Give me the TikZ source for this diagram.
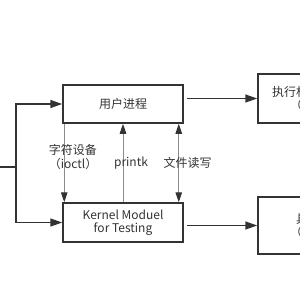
\documentclass[tikz,border=0pt]{standalone}
\usepackage{fontspec}
\setmainfont{Noto Sans CJK SC}
\usetikzlibrary{arrows.meta, positioning}

\begin{document}
\begin{tikzpicture}[
    x=1pt, y=-1pt,
    >={Triangle[length=12pt, width=8pt]},
    every node/.style={font=\fontsize{12}{13.5}\selectfont, text=black!80},
    thintip/.tip={Triangle[length=10pt, width=6.5pt, color=black!80, fill=black!80]},
    block/.style={draw=black!80, line width=1.5pt, minimum width=120pt, align=center, inner sep=0pt},
    flow/.style={->, draw=black!80, line width=1.5pt},
    link/.style={-thintip, draw=gray!90, line width=1pt},
    linkboth/.style={thintip-thintip, draw=gray!90, line width=1pt},
]
\clip (0,0) rectangle (300,300);
% boxes
\node[block, minimum height=38pt] (user) at (123,104) {用户进程};
\node[block, minimum height=39pt] (kernel) at (123,222.5) {Kernel Moduel\\for Testing};
\node[block, minimum width=124pt, minimum height=49pt] (exec) at (320,98.5) {执行相关测试用例\\（用户态）};
\node[block, minimum width=124pt, minimum height=57pt] (real) at (320,225.5) {具体实现\\（内核态）};
% input split on the left
\coordinate (src) at (-2,167);
\coordinate (fork) at (16,167);
\draw[flow, -] (src) -- (fork);
\draw[flow] (fork) |- (user.west);
\draw[flow] (fork) |- (kernel.west);
% to the right-hand boxes
\draw[flow] ([xshift=3pt]user.east |- exec.west) -- (exec.west);
\draw[flow] ([xshift=3pt]kernel.east |- real.west) -- (real.west);
% channels between user space and the module
\draw[link] ([xshift=2pt]user.south west) -- ([xshift=2pt]kernel.north west);
\draw[link] (kernel.north) -- (user.south);
\draw[linkboth] ([xshift=-5pt]user.south east) -- ([xshift=-5pt]kernel.north east);
% channel labels
\node[align=center] (ioctl) at (73,157) {字符设备\\（ioctl）};
\node (printk) at (131,163) {printk};
\node (rw) at (187.5,163) {文件读写};
\end{tikzpicture}
\end{document}
